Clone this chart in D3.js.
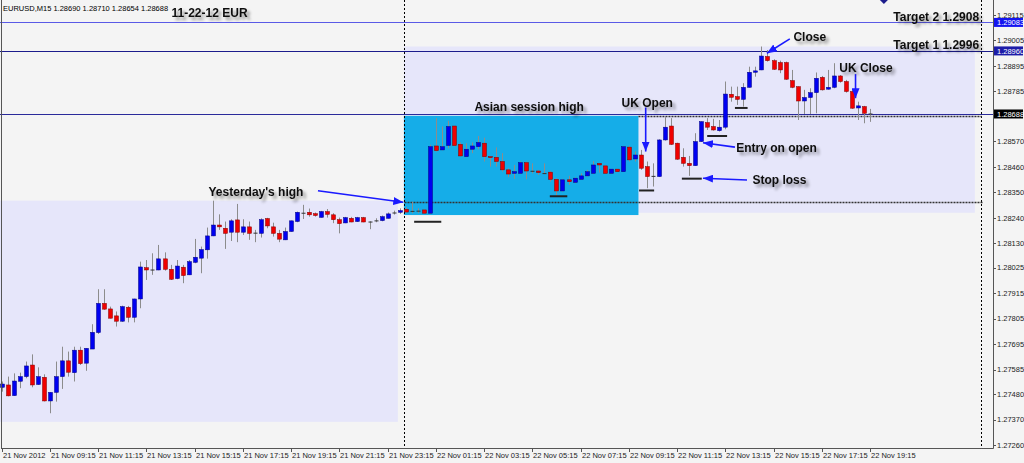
<!DOCTYPE html>
<html><head><meta charset="utf-8">
<script src="https://cdn.jsdelivr.net/npm/d3@7"></script>
<style>
html,body{margin:0;padding:0;background:#f4f4f4;}
svg{display:block;font-family:"Liberation Sans",Arial,sans-serif;}
</style></head><body>
<svg id="c" width="1024" height="463"></svg>
<script>
// ---------- DATA ----------
const open = [1.27509,1.27519,1.27473,1.27535,1.27555,1.27605,1.27521,1.27552,1.27450,1.27487,1.27555,1.27623,1.27572,1.27669,1.27613,1.27674,1.27745,1.27871,1.27847,1.27817,1.27794,1.27854,1.27811,1.27890,1.28025,1.28015,1.28015,1.28063,1.28018,1.27978,1.28027,1.27994,1.28048,1.28066,1.28102,1.28162,1.28209,1.28195,1.28178,1.28231,1.28178,1.28201,1.28176,1.28173,1.28237,1.28201,1.28173,1.28145,1.28181,1.28224,1.28261,1.28264,1.28258,1.28242,1.28267,1.28253,1.28232,1.28218,1.28238,1.28224,1.28241,1.28224,1.28228,1.28228,1.28238,1.28262,1.28264,1.28277,1.28270,1.28270,1.28274,1.28260,1.28550,1.28533,1.28552,1.28636,1.28557,1.28504,1.28536,1.28547,1.28562,1.28504,1.28501,1.28483,1.28447,1.28432,1.28432,1.28478,1.28442,1.28442,1.28432,1.28437,1.28406,1.28356,1.28404,1.28393,1.28406,1.28421,1.28432,1.28475,1.28464,1.28432,1.28450,1.28439,1.28545,1.28494,1.28511,1.28461,1.28421,1.28418,1.28576,1.28636,1.28562,1.28501,1.28475,1.28465,1.28569,1.28651,1.28634,1.28616,1.28631,1.28773,1.28763,1.28751,1.28803,1.28868,1.28878,1.28936,1.28918,1.28910,1.28910,1.28832,1.28806,1.28744,1.28759,1.28780,1.28846,1.28795,1.28803,1.28852,1.28828,1.28785,1.28714,1.28720,1.28690];
const high = [1.27534,1.27555,1.27569,1.27572,1.27620,1.27651,1.27595,1.27565,1.27488,1.27620,1.27684,1.27663,1.27684,1.27684,1.27678,1.27781,1.27932,1.27932,1.27857,1.27836,1.27861,1.27860,1.27891,1.28051,1.28058,1.28087,1.28123,1.28091,1.28037,1.28058,1.28037,1.28058,1.28149,1.28116,1.28198,1.28314,1.28255,1.28224,1.28234,1.28300,1.28234,1.28224,1.28188,1.28238,1.28240,1.28219,1.28188,1.28198,1.28228,1.28267,1.28296,1.28280,1.28263,1.28270,1.28278,1.28260,1.28241,1.28244,1.28244,1.28244,1.28244,1.28225,1.28238,1.28250,1.28263,1.28271,1.28281,1.28286,1.28310,1.28281,1.28277,1.28555,1.28670,1.28634,1.28659,1.28638,1.28565,1.28562,1.28565,1.28593,1.28586,1.28506,1.28544,1.28519,1.28454,1.28468,1.28483,1.28483,1.28475,1.28447,1.28475,1.28442,1.28411,1.28408,1.28421,1.28415,1.28432,1.28447,1.28485,1.28477,1.28468,1.28451,1.28451,1.28550,1.28552,1.28526,1.28533,1.28483,1.28475,1.28579,1.28674,1.28670,1.28564,1.28540,1.28507,1.28605,1.28656,1.28670,1.28667,1.28662,1.28828,1.28806,1.28806,1.28821,1.28892,1.28892,1.28979,1.28964,1.28924,1.28918,1.28914,1.28878,1.28807,1.28792,1.28799,1.28867,1.28852,1.28878,1.28907,1.28856,1.28835,1.28792,1.28741,1.28723,1.28710];
const low = [1.27490,1.27470,1.27472,1.27505,1.27548,1.27509,1.27519,1.27448,1.27397,1.27447,1.27502,1.27555,1.27534,1.27605,1.27580,1.27674,1.27739,1.27843,1.27806,1.27771,1.27791,1.27789,1.27789,1.27850,1.27972,1.27994,1.28014,1.28012,1.27972,1.27975,1.27958,1.27993,1.28044,1.28001,1.28064,1.28161,1.28188,1.28106,1.28140,1.28135,1.28166,1.28145,1.28135,1.28155,1.28195,1.28159,1.28135,1.28144,1.28180,1.28221,1.28235,1.28245,1.28245,1.28241,1.28241,1.28217,1.28173,1.28217,1.28221,1.28222,1.28221,1.28191,1.28221,1.28225,1.28237,1.28254,1.28257,1.28260,1.28260,1.28260,1.28257,1.28257,1.28526,1.28531,1.28540,1.28547,1.28504,1.28501,1.28519,1.28536,1.28483,1.28461,1.28461,1.28439,1.28415,1.28408,1.28429,1.28406,1.28432,1.28425,1.28429,1.28396,1.28332,1.28353,1.28382,1.28389,1.28404,1.28418,1.28429,1.28435,1.28431,1.28429,1.28438,1.28438,1.28483,1.28483,1.28447,1.28368,1.28375,1.28416,1.28573,1.28554,1.28490,1.28461,1.28421,1.28464,1.28567,1.28619,1.28616,1.28612,1.28622,1.28741,1.28727,1.28720,1.28802,1.28849,1.28877,1.28914,1.28878,1.28864,1.28835,1.28799,1.28662,1.28688,1.28688,1.28691,1.28789,1.28793,1.28799,1.28823,1.28780,1.28710,1.28662,1.28648,1.28654];
const close = [1.27523,1.27472,1.27536,1.27555,1.27601,1.27519,1.27555,1.27450,1.27487,1.27555,1.27623,1.27574,1.27669,1.27611,1.27677,1.27746,1.27871,1.27846,1.27807,1.27794,1.27857,1.27811,1.27890,1.28028,1.28015,1.28017,1.28063,1.28018,1.27975,1.28032,1.27991,1.28051,1.28070,1.28103,1.28162,1.28209,1.28201,1.28173,1.28227,1.28178,1.28201,1.28173,1.28175,1.28232,1.28205,1.28173,1.28148,1.28181,1.28227,1.28264,1.28262,1.28253,1.28250,1.28267,1.28255,1.28232,1.28215,1.28241,1.28222,1.28241,1.28222,1.28223,1.28229,1.28245,1.28257,1.28263,1.28271,1.28265,1.28269,1.28271,1.28260,1.28547,1.28530,1.28547,1.28634,1.28552,1.28507,1.28536,1.28550,1.28565,1.28504,1.28500,1.28483,1.28447,1.28429,1.28439,1.28478,1.28442,1.28443,1.28435,1.28433,1.28406,1.28356,1.28404,1.28396,1.28411,1.28421,1.28439,1.28468,1.28468,1.28432,1.28450,1.28439,1.28547,1.28490,1.28511,1.28454,1.28418,1.28420,1.28576,1.28631,1.28557,1.28493,1.28475,1.28465,1.28569,1.28655,1.28631,1.28619,1.28631,1.28774,1.28760,1.28751,1.28803,1.28868,1.28874,1.28938,1.28918,1.28881,1.28878,1.28838,1.28803,1.28744,1.28759,1.28780,1.28842,1.28792,1.28803,1.28852,1.28828,1.28785,1.28713,1.28723,1.28691,1.28688];

const timeLabels = ["21 Nov 2012","21 Nov 09:15","21 Nov 11:15","21 Nov 13:15","21 Nov 15:15","21 Nov 17:15","21 Nov 19:15","21 Nov 21:15","21 Nov 23:15","22 Nov 01:15","22 Nov 03:15","22 Nov 05:15","22 Nov 07:15","22 Nov 09:15","22 Nov 11:15","22 Nov 13:15","22 Nov 15:15","22 Nov 17:15","22 Nov 19:15"];
const timeLabelBars = [0,8,16,24,32,40,48,56,64,72,80,88,96,104,112,120,128,136,144];
const priceTicks = [1.29115,1.29005,1.28895,1.28785,1.28570,1.28460,1.28350,1.28240,1.28130,1.28025,1.27915,1.27805,1.27695,1.27585,1.27480,1.27370,1.27260];

// horizontal price lines with labels on the axis
const priceLines = [
  {price:1.29083, line:"#5a5ae6", bg:"#1414f0"},
  {price:1.28960, line:"#1c1c8c", bg:"#1c1ca8"},
  {price:1.28688, line:"#2a2a9a", bg:"#000000"}
];
// session boxes: bar index range and price range
const boxes = [
  {x0:-0.5, x1:65.7, p0:1.28314, p1:1.27360, fill:"#e6e6fa"},
  {x0:66.7, x1:161.4, p0:1.28979, p1:1.28262, fill:"#e6e6fa"},
  {x0:66.7, x1:105.6, p0:1.28680, p1:1.28252, fill:"#15ade8"}
];
const dottedLevels = [
  {x0:66.8, x1:162.8, price:1.28310},
  {x0:105.6, x1:162.5, price:1.28680}
];
const separators = [66.7, 162.4];
const markers = [
  {x0:68.4, x1:72.9, price:1.28223},
  {x0:90.9, x1:93.8, price:1.28333},
  {x0:105.7, x1:108.2, price:1.28358},
  {x0:112.8, x1:116.1, price:1.28409},
  {x0:117.0, x1:120.3, price:1.28593},
  {x0:121.6, x1:123.7, price:1.28714}
];
const arrows = [
  {x0:52.45, p0:1.28357, x1:66.6, p1:1.28307},
  {x0:106.8, p0:1.28716, x1:106.8, p1:1.28526},
  {x0:121.6, p0:1.28545, x1:116.3, p1:1.28564},
  {x0:123.6, p0:1.28403, x1:116.3, p1:1.28411},
  {x0:130.7, p0:1.29012, x1:126.9, p1:1.28950},
  {x0:141.6, p0:1.28860, x1:141.6, p1:1.28756}
];
const notes = [
  {text:"Yesterday's high", x:34.3, price:1.28334, anchor:"start"},
  {text:"Asian session high", x:78.4, price:1.28699, anchor:"start"},
  {text:"UK Open", x:102.8, price:1.28720, anchor:"start"},
  {text:"Entry on open", x:121.8, price:1.28526, anchor:"start"},
  {text:"Stop loss", x:124.5, price:1.28386, anchor:"start"},
  {text:"Close", x:131.3, price:1.29004, anchor:"start"},
  {text:"UK Close", x:138.9, price:1.28871, anchor:"start"},
  {text:"Target 2  1.2908", x:162.1, price:1.29091, anchor:"end"},
  {text:"Target 1  1.2996", x:162.1, price:1.28968, anchor:"end"}
];
const headerText = "EURUSD,M15  1.28690 1.28710 1.28654 1.28688";
const titleText = "11-22-12  EUR";

// ---------- DRAW ----------
const svg = d3.select("#c");
const W = 1024, H = 463, axisX = 993, axisY = 448;
const x = d3.scaleLinear().domain([0,144]).range([1.7, 870.0]);
const y = d3.scaleLinear().domain([1.29115,1.27260]).range([15,445]);

const defs = svg.append("defs");
const f = defs.append("filter").attr("id","sh").attr("x","-10%").attr("y","-40%").attr("width","130%").attr("height","200%");
f.append("feGaussianBlur").attr("in","SourceAlpha").attr("stdDeviation",1.6).attr("result","b");
f.append("feOffset").attr("in","b").attr("dx",3).attr("dy",3).attr("result","o");
f.append("feComponentTransfer").attr("in","o").attr("result","t").append("feFuncA").attr("type","linear").attr("slope",0.4);
const fm = f.append("feMerge"); fm.append("feMergeNode").attr("in","t"); fm.append("feMergeNode").attr("in","SourceGraphic");
defs.append("marker").attr("id","ah").attr("viewBox","0 0 10 8").attr("refX",10).attr("refY",4)
  .attr("markerWidth",10).attr("markerHeight",8).attr("markerUnits","userSpaceOnUse").attr("orient","auto")
  .append("path").attr("d","M0,0 L10,4 L0,8 Z").attr("fill","#1a1aff");
const cp = defs.append("clipPath").attr("id","plot");
cp.append("rect").attr("x",0).attr("y",0).attr("width",axisX).attr("height",axisY);

svg.append("rect").attr("width",W).attr("height",H).attr("fill","#f4f4f4");
const g = svg.append("g").attr("clip-path","url(#plot)");

// boxes
g.selectAll(".box").data(boxes).join("rect")
  .attr("x",d=>x(d.x0)).attr("width",d=>x(d.x1)-x(d.x0))
  .attr("y",d=>y(d.p0)).attr("height",d=>y(d.p1)-y(d.p0)).attr("fill",d=>d.fill);

// price lines
g.selectAll(".pl").data(priceLines).join("line")
  .attr("x1",0).attr("x2",axisX).attr("y1",d=>Math.round(y(d.price))+0.5).attr("y2",d=>Math.round(y(d.price))+0.5)
  .attr("stroke",d=>d.line).attr("stroke-width",1);

// separators
g.selectAll(".sep").data(separators).join("line")
  .attr("x1",d=>Math.round(x(d))+0.5).attr("x2",d=>Math.round(x(d))+0.5).attr("y1",0).attr("y2",axisY)
  .attr("stroke","#000").attr("stroke-width",1).attr("stroke-dasharray","2,2");

// dotted levels
g.selectAll(".dl").data(dottedLevels).join("line")
  .attr("x1",d=>x(d.x0)).attr("x2",d=>x(d.x1)).attr("y1",d=>Math.round(y(d.price))+0.5).attr("y2",d=>Math.round(y(d.price))+0.5)
  .attr("stroke","#333").attr("stroke-width",1.6).attr("stroke-dasharray","2,1");

// candles
const idx = d3.range(open.length);
const cg = g.append("g");
cg.selectAll(".wick").data(idx).join("line")
  .attr("x1",i=>Math.round(x(i))+0.5).attr("x2",i=>Math.round(x(i))+0.5)
  .attr("y1",i=>y(high[i])).attr("y2",i=>y(low[i]))
  .attr("stroke","#8c8c8c").attr("stroke-width",1);
cg.selectAll(".body").data(idx).join("rect")
  .attr("x",i=>Math.round(x(i))-1.5).attr("width",4)
  .attr("y",i=>y(Math.max(open[i],close[i])))
  .attr("height",i=>Math.max(1,Math.abs(y(open[i])-y(close[i]))))
  .attr("fill",i=>Math.abs(open[i]-close[i])<0.000025?"#333":(close[i]>open[i]?"#0000f0":"#f00000"))
  .attr("stroke",i=>Math.abs(open[i]-close[i])<0.000025?"none":(close[i]>open[i]?"#000080":"#800000"))
  .attr("stroke-width",0.5);

// markers
g.selectAll(".mk").data(markers).join("line")
  .attr("x1",d=>x(d.x0)).attr("x2",d=>x(d.x1)).attr("y1",d=>y(d.price)).attr("y2",d=>y(d.price))
  .attr("stroke","#222").attr("stroke-width",2);

// arrows
g.selectAll(".ar").data(arrows).join("line")
  .attr("x1",d=>x(d.x0)).attr("y1",d=>y(d.p0)).attr("x2",d=>x(d.x1)).attr("y2",d=>y(d.p1))
  .attr("stroke","#1a1aff").attr("stroke-width",1.6).attr("marker-end","url(#ah)");

// notes
g.selectAll(".nt").data(notes).join("text")
  .attr("x",d=>x(d.x)).attr("y",d=>y(d.price)).attr("text-anchor",d=>d.anchor)
  .attr("font-size",12).attr("font-weight","bold").attr("fill","#111").attr("filter","url(#sh)")
  .text(d=>d.text);

// shift marker
svg.append("path").attr("d",`M${x(146.3)-4},0 L${x(146.3)+4},0 L${x(146.3)},4 Z`).attr("fill","#1c1c8c");

// header
svg.append("text").attr("x",3).attr("y",10.5).attr("font-size",7.5).attr("fill","#000").text(headerText);
svg.append("text").attr("x",171.5).attr("y",17).attr("font-size",12).attr("font-weight","bold").attr("fill","#111").attr("filter","url(#sh)").text(titleText);

// frame / axes
svg.append("line").attr("x1",1.5).attr("x2",1.5).attr("y1",0).attr("y2",axisY).attr("stroke","#555");
svg.append("line").attr("x1",axisX+0.5).attr("x2",axisX+0.5).attr("y1",0).attr("y2",axisY+0.5).attr("stroke","#555");
svg.append("line").attr("x1",1).attr("x2",axisX+0.5).attr("y1",axisY+0.5).attr("y2",axisY+0.5).attr("stroke","#555");

// y ticks
const yt = svg.append("g");
yt.selectAll("line").data(priceTicks).join("line")
  .attr("x1",axisX).attr("x2",axisX+3).attr("y1",d=>Math.round(y(d))+0.5).attr("y2",d=>Math.round(y(d))+0.5).attr("stroke","#555");
yt.selectAll("text").data(priceTicks).join("text")
  .attr("x",axisX+4).attr("y",d=>y(d)+2.7).attr("font-size",7.5).attr("fill","#222").text(d=>d.toFixed(5));

// price line labels
const pl = svg.append("g");
pl.selectAll("rect").data(priceLines).join("rect")
  .attr("x",axisX+1).attr("y",d=>y(d.price)-4.5).attr("width",29).attr("height",9).attr("fill",d=>d.bg);
pl.selectAll("text").data(priceLines).join("text")
  .attr("x",axisX+4).attr("y",d=>y(d.price)+2.7).attr("font-size",7.5).attr("fill","#fff").text(d=>d.price.toFixed(5));

// x ticks
const xt = svg.append("g");
xt.selectAll("line").data(timeLabelBars).join("line")
  .attr("x1",d=>Math.round(x(d))+0.5).attr("x2",d=>Math.round(x(d))+0.5).attr("y1",axisY).attr("y2",axisY+4).attr("stroke","#555");
xt.selectAll("text").data(timeLabels).join("text")
  .attr("x",(d,i)=>Math.round(x(timeLabelBars[i]))+1).attr("y",458).attr("font-size",7.5).attr("fill","#222").text(d=>d);
</script>
</body></html>
